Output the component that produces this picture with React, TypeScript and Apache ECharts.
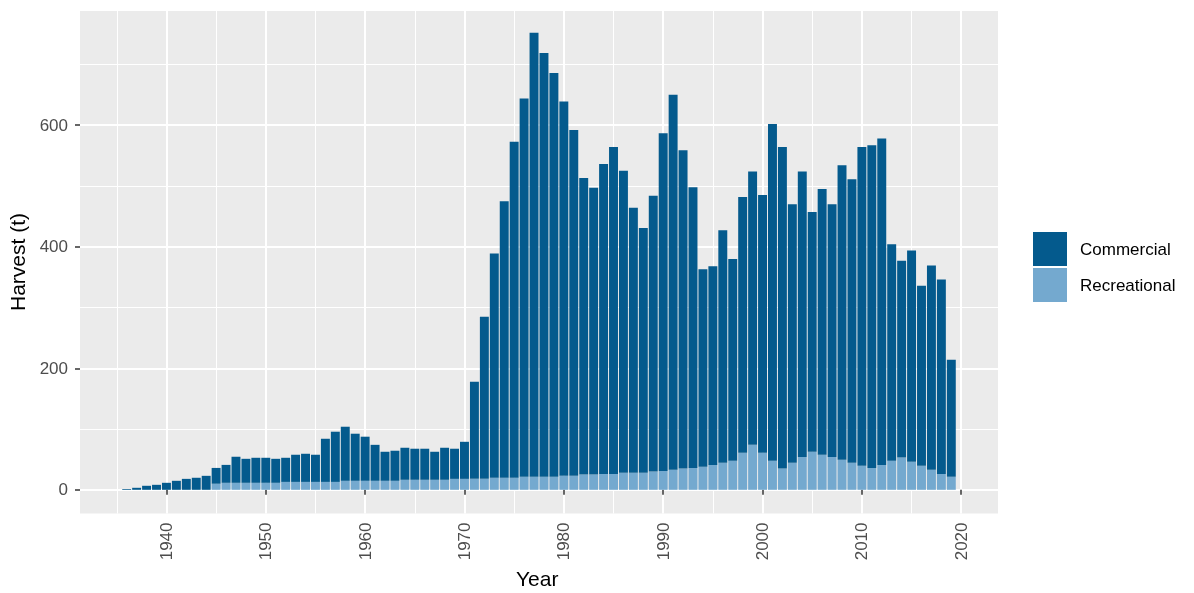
import React, { useEffect, useRef } from "react";
import * as echarts from "echarts";

const years: string[] = [];
for (let y = 1936; y <= 2019; y++) years.push(String(y));

// Total harvest (t) per year, 1936-2019
const totals: number[] = [
  1.5, 3.3, 6.6, 8.2, 11.5, 14.8, 18, 19.8, 23, // 1936-1944
  36, 41, 54.4, 51, 52.7, 52.7, 51, 52.7, 57.7, 59.3, // 1945-1954
  57.7, 84, 95.6, 103.8, 92.3, 87.4, 74, 62.6, 64.3, 69.2, // 1955-1964
  67.6, 67.6, 62.6, 69.2, 67.6, 79, 178, 285, 389, 475, // 1965-1974
  573, 644, 752, 719, 686, 639, 592, 513, 497, 536, // 1975-1984
  564, 525, 464, 431, 484, 587, 650, 559, 498, 363, // 1985-1994
  368, 427, 380, 482, 524, 485, 602, 564, 470, 524, // 1995-2004
  457, 495, 470, 534, 511, 564, 567, 578, 404, 377, // 2005-2014
  394, 336, 369, 346, 214, // 2015-2019
];

// Recreational harvest (t) per year, 1936-2019
const recreational: number[] = [
  0, 0, 0, 0, 0, 0, 0, 0, 0, // 1936-1944
  10, 11.5, 11.5, 11.5, 11.5, 11.5, 11.5, 13, 13, 13, // 1945-1954
  13, 13, 13, 14.8, 14.8, 14.8, 14.8, 14.8, 14.8, 16.5, // 1955-1964
  16.5, 16.5, 16.5, 16.5, 18, 18, 18, 18, 20, 20, // 1965-1974
  20, 21.5, 21.5, 21.5, 21.5, 23, 23, 25, 25, 26, // 1975-1984
  26, 28, 28, 28, 30, 31, 33, 35, 36, 38, // 1985-1994
  41, 44.5, 48, 61, 74, 61, 48, 35, 44.5, 54, // 1995-2004
  62.6, 57.7, 54, 49.5, 44.5, 39.6, 36, 41, 48, 53, // 2005-2014
  46, 39.6, 33, 26, 21.4, // 2015-2019
];

const commercial: number[] = totals.map((t, i) => Math.max(0, +(t - recreational[i]).toFixed(1)));

const majorYears = [1940, 1950, 1960, 1970, 1980, 1990, 2000, 2010, 2020];
const minorYears = [1935, 1945, 1955, 1965, 1975, 1985, 1995, 2005, 2015];
const majorY = [0, 200, 400, 600];
const minorY = [100, 300, 500, 700];

const FONT = "'Liberation Sans', Arial, Helvetica, sans-serif";
const COL_COM = "#045A8D";
const COL_REC = "#74A9CF";

export default function App() {
  const ref = useRef<HTMLDivElement>(null);
  useEffect(() => {
    if (!ref.current) return;
    const chart = echarts.init(ref.current, null, { renderer: "svg" });
    // panel (ggplot-style expanded range)
    const pL = 80, pR = 998, pT = 11, pB = 513.5;
    const xMin = 1931.3, xMax = 2023.7;
    const yMin = -39, yMax = 788;
    const pxPerYear = (pR - pL) / (xMax - xMin);
    const firstEdge = Number(years[0]) - 0.5;
    const lastEdge = Number(years[years.length - 1]) + 0.5;
    const barL = pL + (firstEdge - xMin) * pxPerYear;
    const barR = pL + (lastEdge - xMin) * pxPerYear;

    chart.setOption({
      animation: false,
      textStyle: { fontFamily: FONT },
      grid: [
        {
          left: pL,
          right: 1194 - pR,
          top: pT,
          bottom: 593 - pB,
          show: true,
          backgroundColor: "#EBEBEB",
          borderWidth: 0,
        },
        {
          left: barL,
          right: 1194 - barR,
          top: pT,
          bottom: 593 - pB,
          show: false,
        },
      ],
      legend: {
        data: ["Commercial", "Recreational"],
        orient: "vertical",
        left: 1028,
        top: 227,
        itemWidth: 34,
        itemHeight: 34,
        itemGap: 2,
        icon: "rect",
        textStyle: { fontSize: 17, color: "#000", fontFamily: FONT, padding: [0, 0, 0, 8] },
      },
      xAxis: [
        {
          type: "value",
          gridIndex: 0,
          min: xMin,
          max: xMax,
          axisLine: { show: false },
          axisTick: {
            show: true,
            customValues: majorYears,
            length: 5,
            lineStyle: { color: "#333", width: 1.5 },
          },
          axisLabel: {
            customValues: majorYears,
            rotate: 90,
            margin: 9,
            fontSize: 17,
            color: "#4D4D4D",
            fontFamily: FONT,
            formatter: (v: number) => String(Math.round(v)),
          },
          splitLine: { show: true, lineStyle: { color: "#fff", width: 2 } },
        },
        {
          type: "value",
          gridIndex: 0,
          min: xMin,
          max: xMax,
          position: "bottom",
          axisLine: { show: false },
          axisTick: { show: false, customValues: minorYears },
          axisLabel: { show: false, customValues: minorYears },
          splitLine: { show: true, lineStyle: { color: "#fff", width: 1 } },
        },
        {
          type: "category",
          gridIndex: 1,
          data: years,
          boundaryGap: true,
          show: false,
        },
      ],
      yAxis: [
        {
          type: "value",
          gridIndex: 0,
          min: yMin,
          max: yMax,
          axisLine: { show: false },
          axisTick: {
            show: true,
            customValues: majorY,
            length: 5,
            lineStyle: { color: "#333", width: 1.5 },
          },
          axisLabel: {
            customValues: majorY,
            margin: 12,
            fontSize: 17,
            color: "#4D4D4D",
            fontFamily: FONT,
          },
          splitLine: { show: true, lineStyle: { color: "#fff", width: 2 } },
        },
        {
          type: "value",
          gridIndex: 0,
          min: yMin,
          max: yMax,
          position: "left",
          axisLine: { show: false },
          axisTick: { show: false, customValues: minorY },
          axisLabel: { show: false, customValues: minorY },
          splitLine: { show: true, lineStyle: { color: "#fff", width: 1 } },
        },
        {
          type: "value",
          gridIndex: 1,
          min: yMin,
          max: yMax,
          show: false,
          splitLine: { show: false },
        },
      ],
      series: [
        {
          name: "Recreational",
          type: "bar",
          stack: "harvest",
          xAxisIndex: 2,
          yAxisIndex: 2,
          barWidth: "90%",
          itemStyle: { color: COL_REC },
          data: recreational,
        },
        {
          name: "Commercial",
          type: "bar",
          stack: "harvest",
          xAxisIndex: 2,
          yAxisIndex: 2,
          barWidth: "90%",
          itemStyle: { color: COL_COM },
          data: commercial,
        },
      ],
      graphic: [
        {
          type: "text",
          left: 539 - 23,
          top: 568,
          style: { text: "Year", fill: "#000", font: `21px ${FONT}` },
        },
        {
          type: "text",
          x: 7,
          y: 262,
          rotation: Math.PI / 2,
          style: {
            text: "Harvest (t)",
            fill: "#000",
            font: `21px ${FONT}`,
            align: "center",
            verticalAlign: "top",
          },
        },
      ],
    });
    return () => chart.dispose();
  }, []);
  return (
    <div
      ref={ref}
      style={{ position: "fixed", left: 0, top: 0, width: 1194, height: 593 }}
    />
  );
}
